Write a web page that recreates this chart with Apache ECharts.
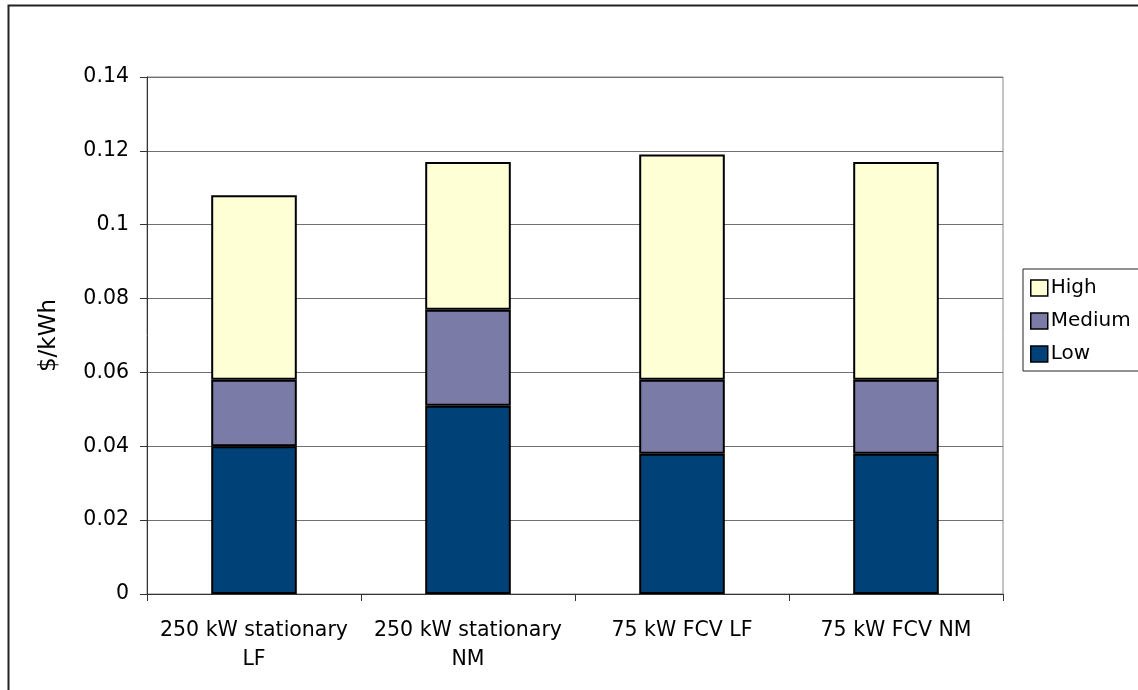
<!DOCTYPE html>
<html>
<head>
<meta charset="utf-8">
<script src="https://cdn.jsdelivr.net/npm/echarts@6/dist/echarts.min.js"></script>
<style>
html,body{margin:0;padding:0;background:#fff;}
#c{width:1138px;height:690px;}
</style>
</head>
<body>
<div id="c"></div>
<script>
const categories = ['250 kW stationary\nLF', '250 kW stationary\nNM', '75 kW FCV LF', '75 kW FCV NM'];
const lowValues = [0.040, 0.051, 0.038, 0.038];
const mediumValues = [0.018, 0.026, 0.020, 0.020];
const highValues = [0.050, 0.040, 0.061, 0.059];
const yTicks = [0, 0.02, 0.04, 0.06, 0.08, 0.1, 0.12, 0.14];

const font = 'DejaVu Sans';
const chart = echarts.init(document.getElementById('c'), null, {renderer: 'canvas'});
const barStyle = (color) => ({color: color, borderColor: '#000', borderWidth: 2});
chart.setOption({
  animation: false,
  backgroundColor: '#fff',
  graphic: [{
    type: 'rect', shape: {x: 8.5, y: 5.5, width: 1200, height: 800},
    style: {fill: 'none', stroke: '#222', lineWidth: 2}, silent: true, z: 100
  }],
  grid: {left: 147, right: 135, top: 77, bottom: 96, show: true, borderColor: '#888', borderWidth: 1},
  legend: {
    data: ['High', 'Medium', 'Low'],
    orient: 'vertical',
    left: 1023, top: 269,
    itemWidth: 17, itemHeight: 16, itemGap: 13,
    padding: [9, 30, 7, 7],
    borderColor: '#222', borderWidth: 1,
    icon: 'rect',
    itemStyle: {borderColor: '#000', borderWidth: 1.5},
    textStyle: {fontFamily: font, fontSize: 20, color: '#000', padding: [0, 0, 0, -2]}
  },
  xAxis: {
    type: 'category',
    data: categories,
    axisLine: {lineStyle: {color: '#333', width: 1}},
    axisTick: {show: true, length: 7, lineStyle: {color: '#333'}},
    axisLabel: {fontFamily: font, fontSize: 20.5, color: '#000', margin: 22, lineHeight: 29, interval: 0}
  },
  yAxis: {
    type: 'value',
    min: 0, max: 0.14, interval: 0.02,
    name: '$/kWh', nameLocation: 'middle', nameGap: 86, nameRotate: 90,
    nameTextStyle: {fontFamily: font, fontSize: 23, color: '#000'},
    axisLine: {show: true, lineStyle: {color: '#333', width: 1}},
    axisTick: {show: true, length: 7, lineStyle: {color: '#333'}},
    splitLine: {lineStyle: {color: '#707070', width: 1}},
    axisLabel: {fontFamily: font, fontSize: 20.5, color: '#000', margin: 18,
      formatter: (v) => { const t = yTicks.find(x => Math.abs(x - v) < 1e-9); return t === undefined ? '' : String(t); }}
  },
  series: [
    {name: 'Low', type: 'bar', stack: 's', data: lowValues, barWidth: '40%', itemStyle: barStyle('#004277')},
    {name: 'Medium', type: 'bar', stack: 's', data: mediumValues, barWidth: '40%', itemStyle: barStyle('#7B7BA8')},
    {name: 'High', type: 'bar', stack: 's', data: highValues, barWidth: '40%', itemStyle: barStyle('#FFFFD6')}
  ]
});
</script>
</body>
</html>
